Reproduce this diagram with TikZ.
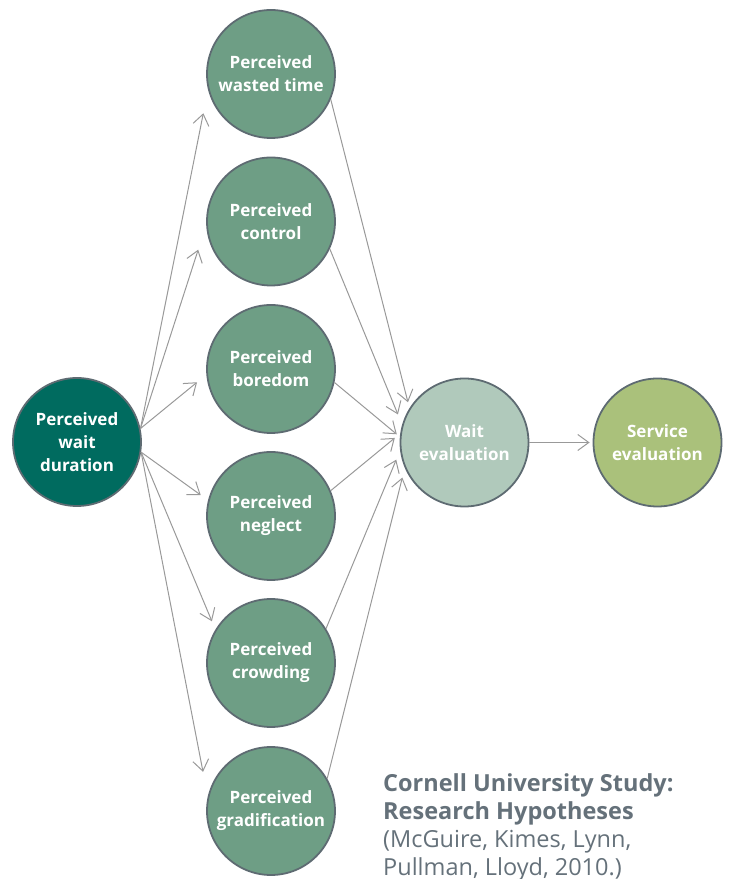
\documentclass[tikz,border=0pt]{standalone}
\usepackage{fontspec}
\setmainfont{Open Sans}
\usetikzlibrary{arrows.meta}
\definecolor{darkteal}{HTML}{006B5F}
\definecolor{midgreen}{HTML}{6E9E85}
\definecolor{palegreen}{HTML}{B0C9BB}
\definecolor{olivegreen}{HTML}{AAC17B}
\definecolor{rimgray}{HTML}{5E6B72}
\definecolor{linkgray}{HTML}{999999}
\definecolor{notegray}{HTML}{65717A}
\begin{document}
\begin{tikzpicture}[x=1pt,y=1pt,
  bubble/.style={circle,draw=rimgray,line width=1.8pt,minimum size=128pt,inner sep=0pt,
    align=center,text=white,font=\bfseries\fontsize{17}{23}\selectfont},
  link/.style={draw=linkgray,line width=1pt,-{Straight Barb[length=11pt,width=16pt]}}]
\useasboundingbox (0,0) rectangle (730,879);
% circles
\node [bubble,fill=darkteal] (pwd) at (77,437) {Perceived\\wait\\duration};
\node [bubble,fill=midgreen] (wasted) at (271,805) {Perceived\\wasted time};
\node [bubble,fill=midgreen] (control) at (271,657.5) {Perceived\\control};
\node [bubble,fill=midgreen] (boredom) at (271,510) {Perceived\\boredom};
\node [bubble,fill=midgreen] (neglect) at (271,363) {Perceived\\neglect};
\node [bubble,fill=midgreen] (crowding) at (271,216) {Perceived\\crowding};
\node [bubble,fill=midgreen] (gradif) at (271,68) {Perceived\\gradification};
\node [bubble,fill=palegreen] (waiteval) at (464.5,436.5) {Wait\\evaluation};
\node [bubble,fill=olivegreen] (serviceeval) at (657.5,436.5) {Service\\evaluation};
% left fan
\draw [link,shorten >=24pt] (pwd.12) -- (wasted.194);
\draw [link,shorten >=26pt] (pwd.12) -- (control.183);
\draw [link,shorten >=12pt] (pwd.12) -- (boredom.185);
\draw [link,shorten >=9pt] (pwd.-9) -- (neglect.166);
\draw [link,shorten >=9pt] (pwd.-9) -- (crowding.149);
\draw [link,shorten >=25pt] (pwd.-9) -- (gradif.167);
% right fan
\draw [link,shorten >=6pt] (wasted.-23) -- (waiteval.148);
\draw [link,shorten >=11pt] (control.-25) -- (waiteval.164);
\draw [link,shorten >=4pt] (boredom.-12) -- (waiteval.175);
\draw [link,shorten >=7pt] (neglect.23) -- (waiteval.172);
\draw [link,shorten >=10pt] (crowding.32) -- (waiteval.187);
\draw [link,shorten >=10pt] (gradif.30) -- (waiteval.203);
\draw [link,shorten >=3pt] (waiteval) -- (serviceeval);
% source
\node [anchor=north west,inner sep=0pt,align=left,text=notegray,
  font=\fontsize{23.5}{28}\selectfont] (note) at (383,106)
  {\textbf{Cornell University Study:}\\\textbf{Research Hypotheses}\\(McGuire, Kimes, Lynn,\\Pullman, Lloyd, 2010.)};
\end{tikzpicture}
\end{document}
